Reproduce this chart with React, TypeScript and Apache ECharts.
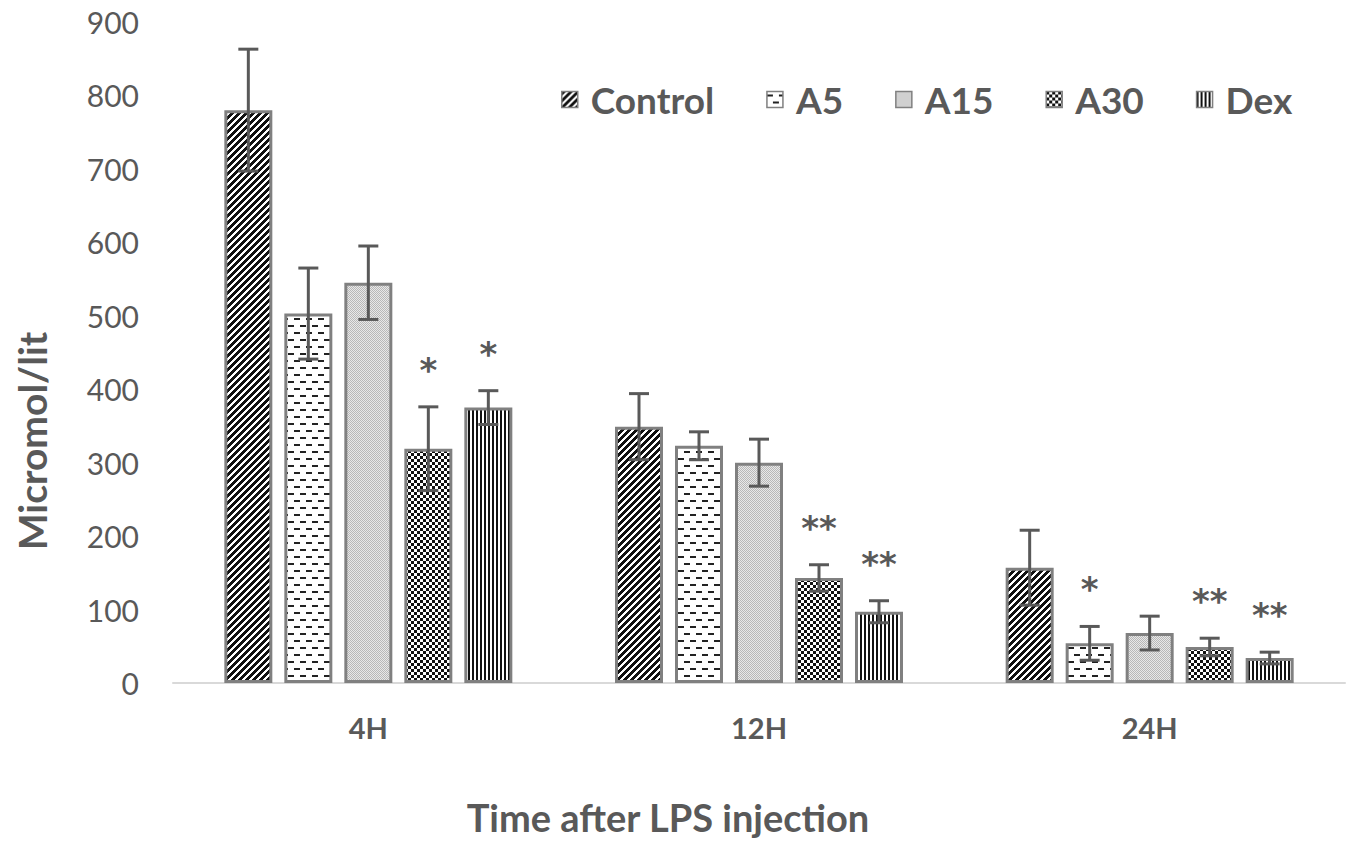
import React, { useEffect, useRef } from "react";
import * as echarts from "echarts";

const categories = ["4H", "12H", "24H"];
const seriesNames = ["Control", "A5", "A15", "A30", "Dex"];

const controlValues = [780, 349, 157];
const controlErrors = [83, 45, 51];
const a5Values = [503, 323, 54];
const a5Errors = [62, 19, 23];
const a15Values = [545, 300, 68];
const a15Errors = [50, 32, 23];
const a30Values = [319, 143, 49];
const a30Errors = [57, 18, 12];
const dexValues = [375, 97, 34];
const dexErrors = [23, 15, 8];

const controlStars = ["", "", ""];
const a5Stars = ["", "", "*"];
const a15Stars = ["", "", ""];
const a30Stars = ["*", "**", "**"];
const dexStars = ["*", "**", "**"];

const yTicks = [0, 100, 200, 300, 400, 500, 600, 700, 800, 900];

const TEXT = "#595959";
const BORDER = "#808080";

function makeCanvas(w: number, h: number, draw: (ctx: CanvasRenderingContext2D) => void) {
  const c = document.createElement("canvas");
  c.width = w;
  c.height = h;
  const ctx = c.getContext("2d")!;
  draw(ctx);
  return { image: c, repeat: "repeat", imageWidth: w, imageHeight: h } as any;
}

function makePatterns() {
  const control = makeCanvas(7, 7, (ctx) => {
    ctx.fillStyle = "#ffffff";
    ctx.fillRect(0, 0, 7, 7);
    ctx.fillStyle = "#111111";
    for (let x = 0; x < 7; x++)
      for (let y = 0; y < 7; y++) if ((x + y) % 7 < 4) ctx.fillRect(x, y, 1, 1);
  });
  const a5 = makeCanvas(12, 14, (ctx) => {
    ctx.fillStyle = "#ffffff";
    ctx.fillRect(0, 0, 12, 14);
    ctx.fillStyle = "#222222";
    ctx.fillRect(0, 3, 6, 2);
    ctx.fillRect(6, 10, 6, 2);
  });
  const a15 = makeCanvas(2, 2, (ctx) => {
    ctx.fillStyle = "#e8e8e8";
    ctx.fillRect(0, 0, 2, 2);
    ctx.fillStyle = "#b8b8b8";
    ctx.fillRect(0, 0, 1, 1);
    ctx.fillRect(1, 1, 1, 1);
  });
  const a30 = makeCanvas(6, 6, (ctx) => {
    ctx.fillStyle = "#ffffff";
    ctx.fillRect(0, 0, 6, 6);
    ctx.fillStyle = "#111111";
    ctx.fillRect(0, 0, 3, 3);
    ctx.fillRect(3, 3, 3, 3);
  });
  const dex = makeCanvas(4, 4, (ctx) => {
    ctx.fillStyle = "#ffffff";
    ctx.fillRect(0, 0, 4, 4);
    ctx.fillStyle = "#111111";
    ctx.fillRect(0, 0, 2, 4);
  });
  return [control, a5, a15, a30, dex];
}

export default function App() {
  const ref = useRef<HTMLDivElement>(null);

  useEffect(() => {
    document.body.style.margin = "0";
    if (!ref.current) return;
    const chart = echarts.init(ref.current, null, { renderer: "svg" });
    const patterns = makePatterns();
    const valuesList = [controlValues, a5Values, a15Values, a30Values, dexValues];
    const errorsList = [controlErrors, a5Errors, a15Errors, a30Errors, dexErrors];
    const starsList = [controlStars, a5Stars, a15Stars, a30Stars, dexStars];
    const pitch = 60;

    const barSeries = seriesNames.map((name, i) => ({
      name,
      type: "bar",
      data: valuesList[i],
      barWidth: 48,
      barGap: "25%",
      itemStyle: { color: patterns[i], borderColor: BORDER, borderWidth: 3 },
      z: 2,
    }));

    const errSeries = seriesNames.map((name, i) => ({
      name: "err-" + name,
      type: "custom",
      z: 5,
      data: valuesList[i].map((v, k) => [k, v, errorsList[i][k]]),
      encode: { x: 0, y: 1 },
      renderItem: (params: any, api: any) => {
        const idx = api.value(0);
        const val = api.value(1);
        const err = api.value(2);
        const c = api.coord([idx, val]);
        const x = c[0] + (i - 2) * pitch;
        const yTop = api.coord([idx, val + err])[1];
        const yBot = api.coord([idx, val - err])[1];
        const ls = { stroke: TEXT, lineWidth: 3 };
        const children: any[] = [
          { type: "line", shape: { x1: x, y1: yTop, x2: x, y2: yBot }, style: ls },
          { type: "line", shape: { x1: x - 10, y1: yTop, x2: x + 10, y2: yTop }, style: ls },
          { type: "line", shape: { x1: x - 10, y1: yBot, x2: x + 10, y2: yBot }, style: ls },
        ];
        const star = starsList[i][params.dataIndex];
        if (star) {
          children.push({
            type: "text",
            x: x,
            y: yTop - 37,
            style: {
              text: star,
              fill: TEXT,
              fontSize: 34,
              fontWeight: "bold",
              fontFamily: "DejaVu Sans",
              align: "center",
              verticalAlign: "middle",
            },
          });
        }
        return { type: "group", children };
      },
    }));

    chart.setOption({
      animation: false,
      backgroundColor: "#ffffff",
      grid: { left: 173, right: 2, top: 22, bottom: 159 },
      legend: {
        data: seriesNames,
        left: 556,
        top: 76,
        icon: "rect",
        itemWidth: 16,
        itemHeight: 16,
        itemGap: 52,
        itemStyle: { borderWidth: 1.5, borderColor: BORDER },
        textStyle: {
          fontFamily: "Lato",
          fontWeight: "bold",
          fontSize: 37,
          color: TEXT,
          padding: [0, 0, 0, 8],
        },
      },
      xAxis: {
        type: "category",
        data: categories,
        axisLine: { lineStyle: { color: "#d9d9d9", width: 2 } },
        axisTick: { show: false },
        axisLabel: {
          fontFamily: "Lato",
          fontWeight: "bold",
          fontSize: 29,
          color: TEXT,
          margin: 30,
        },
      },
      yAxis: {
        type: "value",
        min: yTicks[0],
        max: yTicks[yTicks.length - 1],
        interval: 100,
        axisLine: { show: false },
        axisTick: { show: false },
        splitLine: { show: false },
        axisLabel: {
          fontFamily: "Lato",
          fontSize: 30,
          color: TEXT,
          margin: 34,
        },
      },
      graphic: [
        {
          type: "text",
          x: 668,
          y: 817,
          style: {
            text: "Time after LPS injection",
            fontFamily: "Lato",
            fontWeight: "bold",
            fontSize: 38,
            fill: TEXT,
            align: "center",
            verticalAlign: "middle",
          },
        },
        {
          type: "text",
          x: 32,
          y: 441,
          rotation: Math.PI / 2,
          style: {
            text: "Micromol/lit",
            fontFamily: "Lato",
            fontWeight: "bold",
            fontSize: 39,
            fill: TEXT,
            align: "center",
            verticalAlign: "middle",
          },
        },
      ],
      series: [...barSeries, ...errSeries],
    });

    return () => chart.dispose();
  }, []);

  return <div ref={ref} style={{ width: 1347, height: 842 }} />;
}
